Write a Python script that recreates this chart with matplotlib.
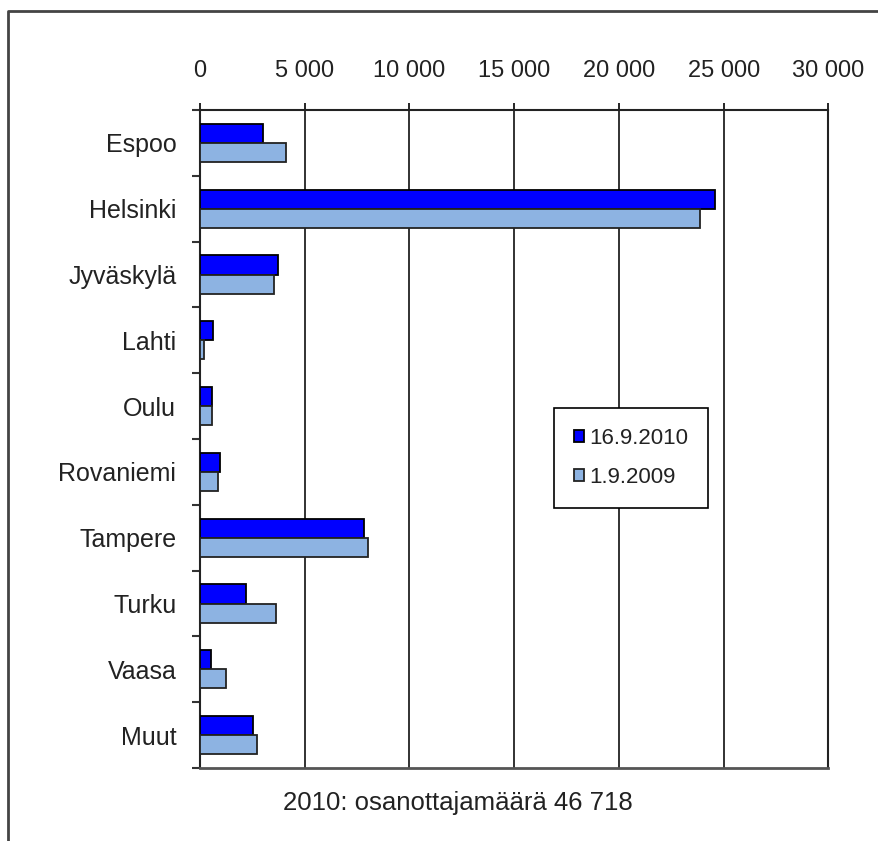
import numpy as np
import matplotlib
matplotlib.use("Agg")
import matplotlib.pyplot as plt
from matplotlib.lines import Line2D
from matplotlib.ticker import FuncFormatter

plt.rcParams['font.family'] = ['Liberation Sans', 'DejaVu Sans']

# Participants per city
cities = ['Espoo', 'Helsinki', 'Jyväskylä', 'Lahti', 'Oulu',
          'Rovaniemi', 'Tampere', 'Turku', 'Vaasa', 'Muut']
values_2010 = [3010, 24570, 3710, 615, 595, 950, 7830, 2175, 525, 2510]
values_2009 = [4120, 23850, 3540, 200, 580, 870, 8020, 3640, 1225, 2700]
series_labels = ['16.9.2010', '1.9.2009']
x_ticks = [0, 5000, 10000, 15000, 20000, 25000, 30000]
footer = '2010: osanottajamäärä 46 718'

fig = plt.figure(figsize=(8.79, 8.41), dpi=100)
ax = fig.add_axes([0.2275, 0.0868, 0.715, 0.7824])

y = np.arange(len(cities))
h = 0.29
ax.barh(y - h / 2, values_2010, height=h, color='#0000ff', edgecolor='black',
        linewidth=1.3, label=series_labels[0], zorder=3)
ax.barh(y + h / 2, values_2009, height=h, color='#8db3e2', edgecolor='#222222',
        linewidth=1.3, label=series_labels[1], zorder=3)

ax.set_xlim(0, 30000)
ax.set_ylim(len(cities) - 0.5, -0.5)

# x axis on top, with space as thousands separator
ax.xaxis.tick_top()
ax.set_xticks(x_ticks)
ax.xaxis.set_major_formatter(FuncFormatter(lambda v, p: f"{int(v):,}".replace(",", " ")))
ax.tick_params(axis='x', length=5, width=1.2, pad=15, labelsize=17, labelcolor='#222222')
ax.grid(axis='x', color='#222222', linewidth=1.3, zorder=0)

# category labels, boundary ticks
ax.set_yticks(y)
ax.set_yticklabels(cities)
ax.set_yticks(np.arange(-0.5, len(cities), 1), minor=True)
ax.tick_params(axis='y', which='major', length=0, pad=17, labelsize=18, labelcolor='#222222')
ax.tick_params(axis='y', which='minor', length=6, width=1.5, color='#333333')

for side in ['left', 'top', 'right', 'bottom']:
    ax.spines[side].set_color('#222222')
    ax.spines[side].set_linewidth(1.5)
ax.spines['bottom'].set_color('#555555')
ax.spines['bottom'].set_linewidth(2)

leg = ax.legend(loc='upper left', bbox_to_anchor=(0.563, 0.547), fontsize=16,
                frameon=True, fancybox=False, framealpha=1, edgecolor='black',
                handlelength=0.48, handleheight=0.48, handletextpad=0.2,
                labelspacing=0.8, borderpad=0.9, borderaxespad=0)
leg.get_frame().set_linewidth(1.2)
for t in leg.get_texts():
    t.set_color('#222222')

fig.text(0.521, 0.045, footer, ha='center', va='center', fontsize=18.5, color='#222222')

# page border on the left and top
fig.add_artist(Line2D([8 / 879, 8 / 879, 1], [0, 1 - 11 / 841, 1 - 11 / 841],
                      color='#444444', linewidth=2))

fig.savefig('out.png', dpi=100)
